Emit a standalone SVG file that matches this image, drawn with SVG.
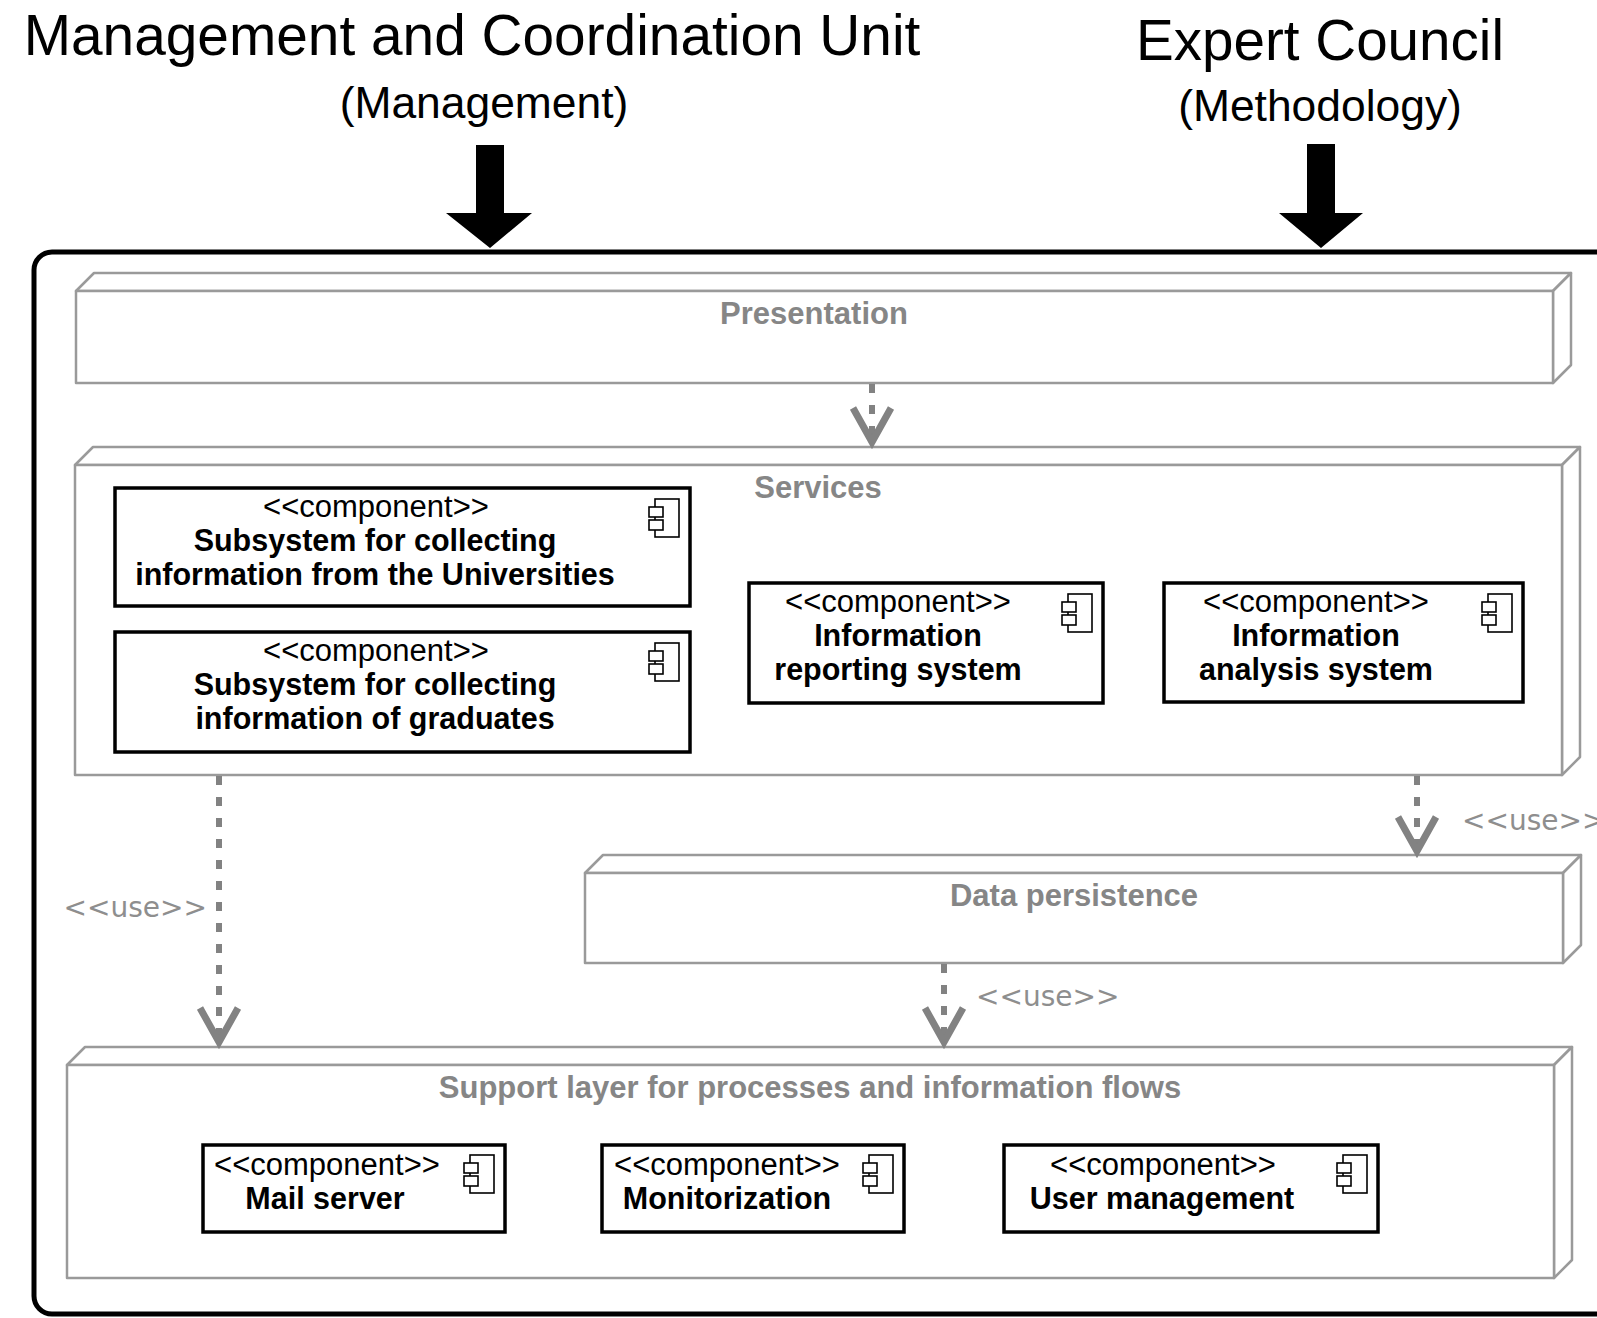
<svg xmlns="http://www.w3.org/2000/svg" width="1597" height="1318" viewBox="0 0 1597 1318">
<style>
.title{font-family:"Liberation Sans",Arial,sans-serif;fill:#000;text-anchor:middle}
.layer{fill:#fff;stroke:#9a9a9a;stroke-width:2.5;stroke-linejoin:round}
.lbl{font-family:"Liberation Sans",Arial,sans-serif;font-weight:bold;font-size:31px;fill:#868686;text-anchor:middle}
.comp{fill:#fff;stroke:#000;stroke-width:3.5}
.st{font-family:"Liberation Sans",Arial,sans-serif;font-size:31px;fill:#000;text-anchor:middle}
.nm{font-family:"Liberation Sans",Arial,sans-serif;font-size:30.5px;font-weight:bold;fill:#000;text-anchor:middle}
.dep{fill:none;stroke:#828282;stroke-width:6;stroke-dasharray:9 12}
.use{font-family:"DejaVu Sans",Verdana,sans-serif;font-size:28px;fill:#8e8e8e}
</style>
<defs>
<g id="icon" fill="#fff" stroke="#000" stroke-width="1.6">
<rect x="6" y="0" width="24" height="38"/>
<rect x="0" y="8" width="14" height="10"/>
<rect x="0" y="21" width="14" height="10"/>
</g>
<marker id="openV" markerUnits="userSpaceOnUse" markerWidth="60" markerHeight="60" refX="0" refY="0" orient="auto" style="overflow:visible">
<path d="M-34,-19 L0,0 L-34,19" fill="none" stroke="#828282" stroke-width="7" stroke-linejoin="miter"/>
</marker>
</defs>
<rect width="1597" height="1318" fill="#fff"/>

<g id="titles">
<text class="title" x="472" y="55" font-size="56.8">Management and Coordination Unit</text>
<text class="title" x="484" y="118" font-size="44.4">(Management)</text>
<text class="title" x="1320" y="60" font-size="56.6">Expert Council</text>
<text class="title" x="1320" y="121" font-size="44.4">(Methodology)</text>
<path d="M476,145 H504 V213 H532 L490,248 L446,213 H476 Z" fill="#000"/>
<path d="M1307,144 H1335 V213 H1363 L1321,248 L1279,213 H1307 Z" fill="#000"/>
</g>

<g id="frame">
<rect x="34" y="252" width="1650" height="1062" rx="18" fill="none" stroke="#000" stroke-width="5"/>
</g>

<g id="presentation">
<path class="layer" d="M76,291 L94,273 L1571,273 L1553,291 Z"/>
<path class="layer" d="M1553,291 L1571,273 L1571,365 L1553,383 Z"/>
<rect class="layer" x="76" y="291" width="1477" height="92"/>
<text class="lbl" x="814" y="324">Presentation</text>
</g>

<g id="services">
<path class="layer" d="M75,465 L93,447 L1580,447 L1562,465 Z"/>
<path class="layer" d="M1562,465 L1580,447 L1580,757 L1562,775 Z"/>
<rect class="layer" x="75" y="465" width="1487" height="310"/>
<text class="lbl" x="818" y="498">Services</text>
</g>

<g id="data-persistence">
<path class="layer" d="M585,873 L603,855 L1581,855 L1563,873 Z"/>
<path class="layer" d="M1563,873 L1581,855 L1581,945 L1563,963 Z"/>
<rect class="layer" x="585" y="873" width="978" height="90"/>
<text class="lbl" x="1074" y="906">Data persistence</text>
</g>

<g id="support">
<path class="layer" d="M67,1065 L85,1047 L1572,1047 L1554,1065 Z"/>
<path class="layer" d="M1554,1065 L1572,1047 L1572,1260 L1554,1278 Z"/>
<rect class="layer" x="67" y="1065" width="1487" height="213"/>
<text class="lbl" x="810" y="1098">Support layer for processes and information flows</text>
</g>

<g id="comp-universities">
<rect class="comp" x="115" y="488" width="575" height="118"/>
<use href="#icon" x="649" y="499"/>
<text class="st" x="376" y="517">&lt;&lt;component&gt;&gt;</text>
<text class="nm" x="375" y="551">Subsystem for collecting</text>
<text class="nm" x="375" y="585">information from the Universities</text>
</g>

<g id="comp-graduates">
<rect class="comp" x="115" y="632" width="575" height="120"/>
<use href="#icon" x="649" y="643"/>
<text class="st" x="376" y="661">&lt;&lt;component&gt;&gt;</text>
<text class="nm" x="375" y="695">Subsystem for collecting</text>
<text class="nm" x="375" y="729">information of graduates</text>
</g>

<g id="comp-reporting">
<rect class="comp" x="749" y="583" width="354" height="120"/>
<use href="#icon" x="1062" y="594"/>
<text class="st" x="898" y="612">&lt;&lt;component&gt;&gt;</text>
<text class="nm" x="898" y="646">Information</text>
<text class="nm" x="898" y="680">reporting system</text>
</g>

<g id="comp-analysis">
<rect class="comp" x="1164" y="583" width="359" height="119"/>
<use href="#icon" x="1482" y="594"/>
<text class="st" x="1316" y="612">&lt;&lt;component&gt;&gt;</text>
<text class="nm" x="1316" y="646">Information</text>
<text class="nm" x="1316" y="680">analysis system</text>
</g>

<g id="comp-mail">
<rect class="comp" x="203" y="1145" width="302" height="87"/>
<use href="#icon" x="464" y="1155"/>
<text class="st" x="327" y="1175">&lt;&lt;component&gt;&gt;</text>
<text class="nm" x="325" y="1209">Mail server</text>
</g>

<g id="comp-monitorization">
<rect class="comp" x="602" y="1145" width="302" height="87"/>
<use href="#icon" x="863" y="1155"/>
<text class="st" x="727" y="1175">&lt;&lt;component&gt;&gt;</text>
<text class="nm" x="727" y="1209">Monitorization</text>
</g>

<g id="comp-users">
<rect class="comp" x="1004" y="1145" width="374" height="87"/>
<use href="#icon" x="1337" y="1155"/>
<text class="st" x="1163" y="1175">&lt;&lt;component&gt;&gt;</text>
<text class="nm" x="1162" y="1209">User management</text>
</g>

<g id="connectors">
<path class="dep" d="M872,384 V442" marker-end="url(#openV)"/>
<path class="dep" d="M219,776 V1042" marker-end="url(#openV)"/>
<path class="dep" d="M1417,776 V851" marker-end="url(#openV)"/>
<path class="dep" d="M944,964 V1042" marker-end="url(#openV)"/>
<text class="use" x="207" y="917" text-anchor="end">&lt;&lt;use&gt;&gt;</text>
<text class="use" x="1462" y="830">&lt;&lt;use&gt;&gt;</text>
<text class="use" x="976" y="1006">&lt;&lt;use&gt;&gt;</text>
</g>
</svg>
